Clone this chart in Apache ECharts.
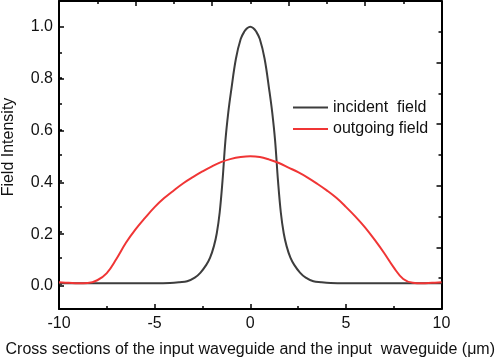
<!DOCTYPE html>
<html>
<head>
<meta charset="utf-8">
<script src="https://cdn.jsdelivr.net/npm/echarts@6/dist/echarts.min.js"></script>
<style>
html,body{margin:0;padding:0;background:#fff;}
#main{width:498px;height:363px;}
</style>
</head>
<body>
<div id="main"></div>
<script>
// ---- data ----
var incidentX = [-10, -8, -6, -5, -4.2, -3.7, -3.3, -2.9, -2.6, -2.3, -2.1, -1.9, -1.75, -1.6, -1.45, -1.3, -1.15, -1.0, -0.75, -0.5, -0.3, -0.15, 0,
                 0.15, 0.3, 0.5, 0.75, 1.0, 1.15, 1.3, 1.45, 1.6, 1.75, 1.9, 2.1, 2.3, 2.6, 2.9, 3.3, 3.7, 4.2, 5, 6, 8, 10];
var incidentY = [0, 0, 0, 0, 0.001, 0.004, 0.008, 0.022, 0.042, 0.072, 0.1, 0.145, 0.195, 0.275, 0.40, 0.555, 0.665, 0.75, 0.875, 0.952, 0.982, 0.995, 1.0,
                 0.995, 0.982, 0.952, 0.875, 0.75, 0.665, 0.555, 0.40, 0.275, 0.195, 0.145, 0.1, 0.072, 0.042, 0.022, 0.008, 0.004, 0.001, 0, 0, 0, 0];
var outgoingX = [-10, -9.5, -9, -8.5, -8, -7.5, -7, -6.5, -6, -5.5, -5, -4.5, -4, -3.5, -3, -2.5, -2, -1.5, -1, -0.5, 0,
                 0.5, 1, 1.5, 2, 2.5, 3, 3.5, 4, 4.5, 5, 5.5, 6, 6.5, 7, 7.5, 8, 8.5, 9, 9.5, 10];
var outgoingY = [0.004, 0.002, 0.0, 0.001, 0.012, 0.04, 0.095, 0.158, 0.21, 0.255, 0.297, 0.332, 0.362, 0.39, 0.414, 0.436, 0.456, 0.473, 0.485, 0.492, 0.495,
                 0.492, 0.482, 0.469, 0.451, 0.433, 0.412, 0.388, 0.362, 0.333, 0.298, 0.26, 0.218, 0.17, 0.118, 0.062, 0.017, 0.002, 0.0, 0.002, 0.004];
var seriesNames = ['incident  field', 'outgoing field'];
var xTicks = [-10, -5, 0, 5, 10];
var yTicks = [0.0, 0.2, 0.4, 0.6, 0.8, 1.0];

function pairs(xs, ys){ return xs.map(function(x,i){ return [x, ys[i]]; }); }

var FONT = 'Arial, "Liberation Sans", sans-serif';
var FS = 16;
var chart = echarts.init(document.getElementById('main'), null, {renderer:'canvas'});

// main grid: top 1, bottom at y=312 ; y range -0.1..1.1
var gTop = 1, gBottom = 51, H = 363 - gTop - gBottom;
var pxPerUnit = H / 1.2;
var y0 = 363 - gBottom - 0.1 * pxPerUnit;  // pixel of value 0
var y1 = y0 - pxPerUnit;                    // pixel of value 1

var option = {
  animation: false,
  backgroundColor: '#fff',
  textStyle: {fontFamily: FONT},
  grid: [
    {left: 59, right: 54, top: gTop, bottom: gBottom},
    {left: 59, right: 54, top: y1, bottom: 363 - y0}
  ],
  legend: {
    orient: 'vertical', left: 292, top: 99.5, padding: 0,
    itemWidth: 35, itemHeight: 16, itemGap: 5.5,
    itemStyle: {opacity: 0},
    textStyle: {fontSize: FS, color: '#111', fontFamily: FONT},
    data: seriesNames
  },
  xAxis: [
    {type: 'value', gridIndex: 0, min: -10, max: 10, interval: 5, position: 'bottom',
     axisLine: {show: true, onZero: false, lineStyle: {color: '#000', width: 2}},
     axisTick: {show: true, inside: true, length: 5, lineStyle: {color: '#000', width: 1.5}},
     minorTick: {show: true, splitNumber: 2, length: 3, lineStyle: {color: '#000', width: 1.5}},
     splitLine: {show: false},
     axisLabel: {show: true, fontSize: FS, color: '#111', margin: 7, fontFamily: FONT,
       formatter: function(v){ return xTicks.indexOf(v) >= 0 ? String(v) : ''; }},
     name: 'Cross sections of the input waveguide and the input  waveguide (\u03bcm)',
     nameLocation: 'middle', nameGap: 33,
     nameTextStyle: {fontSize: FS, color: '#111', fontFamily: FONT}
    },
    {type: 'value', gridIndex: 0, min: -10, max: 10, interval: 4, position: 'top',
     axisLine: {show: true, onZero: false, lineStyle: {color: '#000', width: 2}},
     axisTick: {show: true, inside: true, length: 5, lineStyle: {color: '#000', width: 1.5}},
     minorTick: {show: true, splitNumber: 2, length: 3, lineStyle: {color: '#000', width: 1.5}},
     splitLine: {show: false}, axisLabel: {show: false}
    },
    {type: 'value', gridIndex: 1, min: -10, max: 10, show: false}
  ],
  yAxis: [
    {type: 'value', gridIndex: 0, min: -0.1, max: 1.1, interval: 0.1, position: 'left',
     axisLine: {show: true, onZero: false, lineStyle: {color: '#000', width: 2}},
     axisTick: {show: true, inside: true, length: 3, lineStyle: {color: '#000', width: 1.5}},
     splitLine: {show: false}, axisLabel: {show: false}
    },
    {type: 'value', gridIndex: 0, min: 0, max: 10, interval: 2, position: 'right',
     axisLine: {show: true, onZero: false, lineStyle: {color: '#000', width: 2}},
     axisTick: {show: true, inside: true, length: 5, lineStyle: {color: '#000', width: 1.5}},
     minorTick: {show: true, splitNumber: 2, length: 3, lineStyle: {color: '#000', width: 1.5}},
     splitLine: {show: false}, axisLabel: {show: false}
    },
    {type: 'value', gridIndex: 1, min: 0, max: 1, interval: 0.2, position: 'left',
     axisLine: {show: false, onZero: false},
     axisTick: {show: true, inside: true, length: 5, lineStyle: {color: '#000', width: 1.5}},
     splitLine: {show: false},
     axisLabel: {show: true, fontSize: FS, color: '#111', margin: 6, fontFamily: FONT,
       formatter: function(v){ return v.toFixed(1); }}
    }
  ],
  graphic: [
    {type: 'text', rotation: Math.PI/2, x: 9, y: 147,
     style: {text: 'Field Intensity', fontSize: FS, fill: '#111', fontFamily: FONT,
             textAlign: 'center', textVerticalAlign: 'middle'}}
  ],
  series: [
    {name: seriesNames[0], type: 'line', xAxisIndex: 0, yAxisIndex: 0,
     data: pairs(incidentX, incidentY), symbol: 'none', smooth: 0.4,
     lineStyle: {color: '#3d3d3d', width: 2}, itemStyle: {color: '#3d3d3d'}},
    {name: seriesNames[1], type: 'line', xAxisIndex: 0, yAxisIndex: 0,
     data: pairs(outgoingX, outgoingY), symbol: 'none', smooth: 0.4,
     lineStyle: {color: '#f03535', width: 2}, itemStyle: {color: '#f03535'}}
  ]
};
chart.setOption(option);
</script>
</body>
</html>
